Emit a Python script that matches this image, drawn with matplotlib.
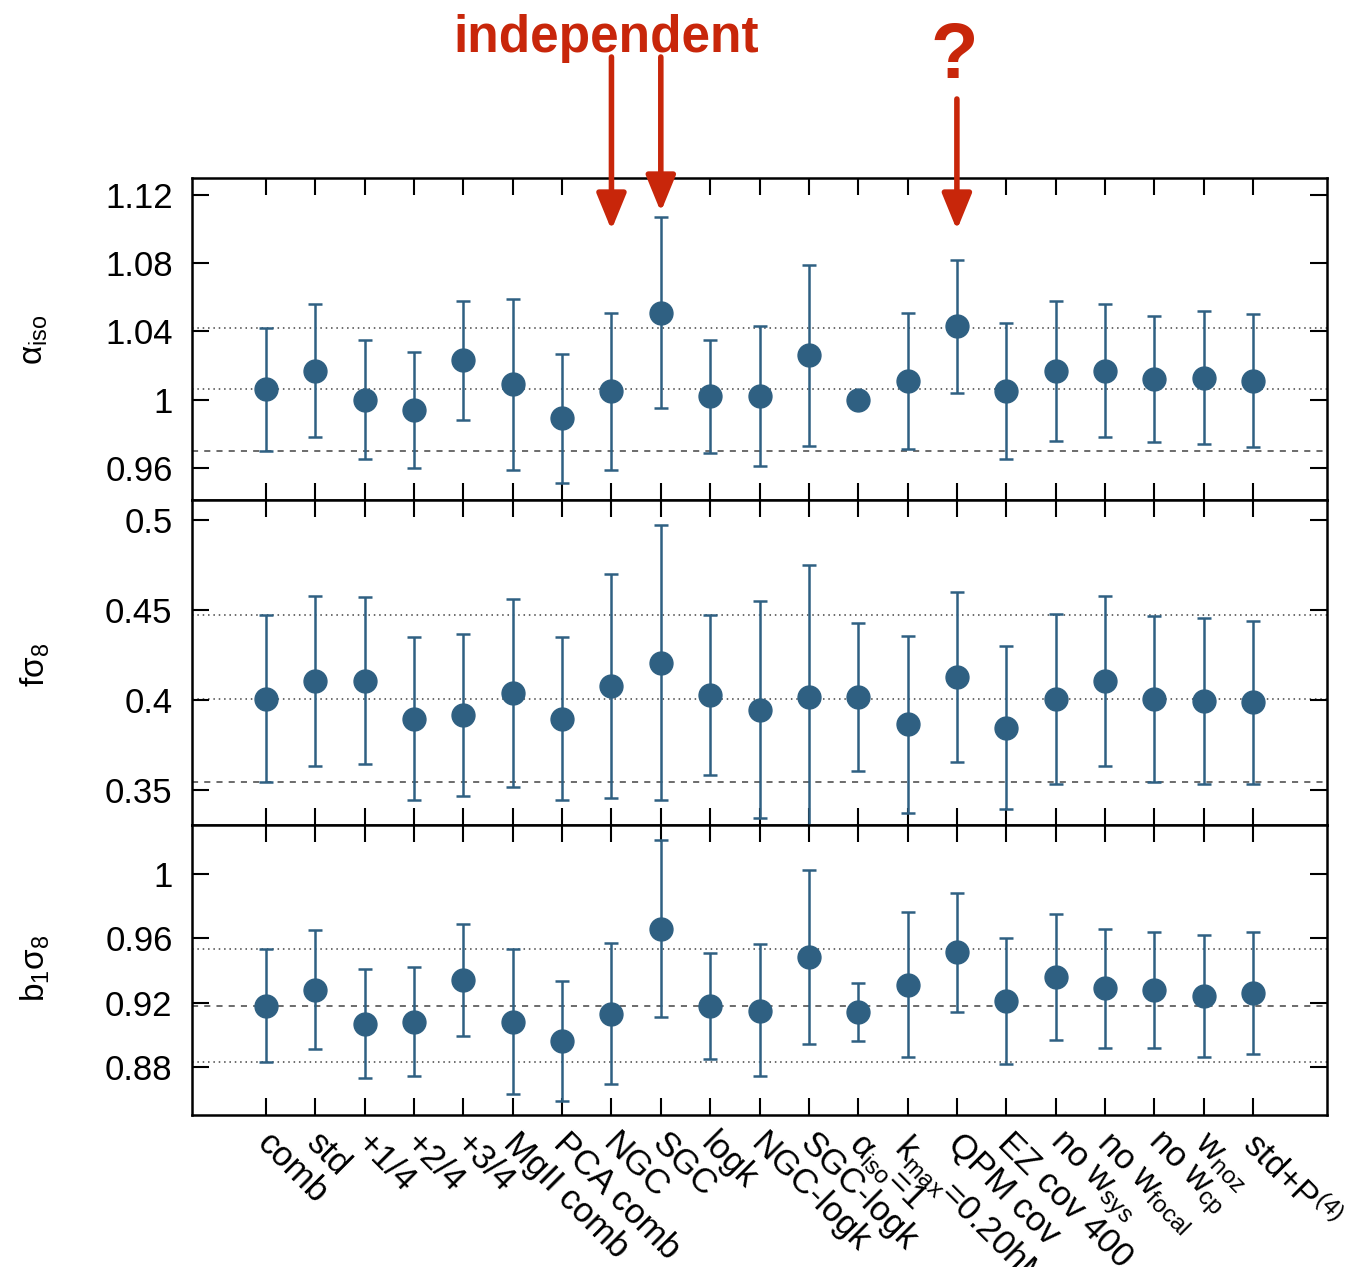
import matplotlib.pyplot as plt
import matplotlib.transforms as mtransforms
import numpy as np
from matplotlib.ticker import FormatStrFormatter, MultipleLocator

plt.rcParams['font.family'] = ['Liberation Sans', 'DejaVu Sans']

# Fit variants
labels = [
    'comb', 'std', '+1/4', '+2/4', '+3/4', 'MgII comb', 'PCA comb', 'NGC', 'SGC',
    'logk', 'NGC-logk', 'SGC-logk', r'$\mathregular{\alpha_{iso}}$=1',
    r'$\mathregular{k_{max}}$=0.20h$\mathregular{Mpc^{-1}}$', 'QPM cov', 'EZ cov 400',
    r'no $\mathregular{w_{sys}}$', r'no $\mathregular{w_{focal}}$',
    r'no $\mathregular{w_{cp}}$', r'$\mathregular{w_{noz}}$', r'std+$\mathregular{P^{(4)}}$',
]

# alpha_iso: best fit, upper and lower bound
alpha_val = [1.006, 1.017, 1.000, 0.994, 1.023, 1.009, 0.989, 1.005, 1.051, 1.002, 1.002,
             1.026, 1.000, 1.011, 1.043, 1.005, 1.017, 1.017, 1.012, 1.013, 1.011]
alpha_hi = [1.042, 1.056, 1.035, 1.028, 1.058, 1.059, 1.027, 1.051, 1.107, 1.035, 1.043,
            1.079, 1.000, 1.051, 1.082, 1.045, 1.058, 1.056, 1.049, 1.052, 1.050]
alpha_lo = [0.970, 0.978, 0.965, 0.960, 0.988, 0.959, 0.951, 0.959, 0.995, 0.969, 0.961,
            0.973, 1.000, 0.971, 1.004, 0.965, 0.976, 0.978, 0.975, 0.974, 0.972]

# f sigma_8
fs8_val = [0.4006, 0.4106, 0.4106, 0.3896, 0.3916, 0.4037, 0.3896, 0.4076, 0.4206, 0.4028,
           0.3946, 0.4017, 0.4017, 0.3866, 0.4128, 0.3846, 0.4006, 0.4106, 0.4006, 0.3996,
           0.3987]
fs8_hi = [0.4470, 0.4578, 0.4569, 0.4348, 0.4366, 0.4558, 0.4348, 0.4699, 0.4970, 0.4470,
          0.4548, 0.4749, 0.4428, 0.4357, 0.4599, 0.4297, 0.4478, 0.4578, 0.4468, 0.4457,
          0.4439]
fs8_lo = [0.3545, 0.3636, 0.3645, 0.3446, 0.3465, 0.3517, 0.3446, 0.3455, 0.3446, 0.3584,
          0.3346, 0.3285, 0.3606, 0.3374, 0.3656, 0.3394, 0.3535, 0.3636, 0.3545, 0.3535,
          0.3535]

# b_1 sigma_8
bs8_val = [0.9181, 0.9279, 0.9069, 0.9079, 0.9339, 0.9079, 0.8959, 0.9129, 0.9660, 0.9181,
           0.9150, 0.9481, 0.9142, 0.9310, 0.9512, 0.9210, 0.9360, 0.9292, 0.9281, 0.9242,
           0.9260]
bs8_hi = [0.9531, 0.9651, 0.9408, 0.9420, 0.9691, 0.9531, 0.9331, 0.9570, 1.0211, 0.9510,
          0.9562, 1.0022, 0.9321, 0.9762, 0.9882, 0.9599, 0.9751, 0.9660, 0.9641, 0.9622,
          0.9641]
bs8_lo = [0.8830, 0.8911, 0.8728, 0.8740, 0.8990, 0.8630, 0.8588, 0.8690, 0.9111, 0.8848,
          0.8740, 0.8940, 0.8961, 0.8861, 0.9140, 0.8817, 0.8969, 0.8919, 0.8919, 0.8861,
          0.8878]

point_color = '#2f6082'
red = '#c8260a'
W, H = 1353, 1267

fig = plt.figure(figsize=(W / 100, H / 100), dpi=100)
gs = fig.add_gridspec(3, 1, height_ratios=[322, 325, 290], hspace=0,
                      left=192 / W, right=1327 / W, top=1 - 178 / H, bottom=1 - 1115 / H)
axes = [fig.add_subplot(gs[i]) for i in range(3)]

x = np.arange(len(labels))

panels = [
    (alpha_val, alpha_hi, alpha_lo, (0.9412, 1.13), 0.04, r'$\mathregular{\alpha_{iso}}$',
     [':', ':', '--']),
    (fs8_val, fs8_hi, fs8_lo, (0.3306, 0.511), 0.05, r'f$\mathregular{\sigma_8}$',
     [':', ':', '--']),
    (bs8_val, bs8_hi, bs8_lo, (0.850, 1.0305), 0.04, r'b$\mathregular{_1\sigma_8}$',
     [':', '--', ':']),
]
label_y = [340, 665, 968]

for ax, (val, hi, lo, ylim, step, ylab, styles), ly in zip(axes, panels, label_y):
    val = np.array(val)
    hi = np.array(hi)
    lo = np.array(lo)

    # reference lines at the "comb" fit and its bounds
    for ref, ls in zip([hi[0], val[0], lo[0]], styles):
        dash = (0, (1, 2.5)) if ls == ':' else (0, (4, 4))
        ax.axhline(ref, color='#444444', lw=1.1, linestyle=dash, zorder=1)

    ax.errorbar(x, val, yerr=[val - lo, hi - val], fmt='o', color=point_color,
                ms=16.5, elinewidth=1.8, capsize=5, capthick=1.8, zorder=3)

    ax.set_xlim(-1.5, len(labels) + 0.5)
    ax.set_ylim(*ylim)
    ax.yaxis.set_major_locator(MultipleLocator(step))
    ax.yaxis.set_major_formatter(FormatStrFormatter('%g'))
    ax.set_xticks(x)
    ax.tick_params(axis='both', which='both', direction='in', top=True, right=True,
                   length=12, width=1.5, labelsize=25, pad=14)
    for s in ax.spines.values():
        s.set_linewidth(1.8)
    fig.text(35 / W, 1 - ly / H, ylab, rotation=90, ha='center', va='center', fontsize=24)

for ax in axes[:2]:
    ax.tick_params(labelbottom=False)

axes[2].tick_params(axis='x', pad=10)
axes[2].set_xticklabels(labels, rotation=-45, ha='left', va='top', rotation_mode='anchor')
shift = mtransforms.ScaledTranslation(0.08, 0.02, fig.dpi_scale_trans)
for t in axes[2].get_xticklabels():
    t.set_fontsize(25)
    t.set_transform(t.get_transform() + shift)

# annotations above the top panel
fig.text(606 / W, 1 - 52 / H, 'independent', ha='center', va='baseline',
         fontsize=37, fontweight='bold', color=red)
fig.text(954 / W, 1 - 78 / H, '?', ha='center', va='baseline',
         fontsize=56, fontweight='bold', color=red)

arrows = [(7, 57, 230), (8, 57, 212), (14, 99, 230)]
for xi, y0, y1 in arrows:
    axes[0].annotate('', xy=(xi, 1 - y1 / H), xycoords=('data', 'figure fraction'),
                     xytext=(xi, 1 - y0 / H), textcoords=('data', 'figure fraction'),
                     annotation_clip=False,
                     arrowprops=dict(arrowstyle='-|>,head_length=1.1,head_width=0.45',
                                     mutation_scale=20, lw=4, color=red,
                                     shrinkA=0, shrinkB=0))

fig.savefig('out.png', dpi=100)
